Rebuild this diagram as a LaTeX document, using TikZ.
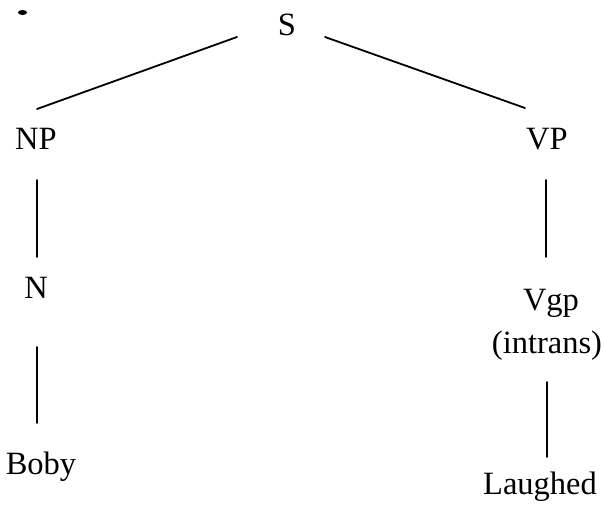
\documentclass[tikz,border=0pt]{standalone}
\usepackage{fontspec}
\setmainfont{Liberation Serif}
\begin{document}
\begin{tikzpicture}[x=1pt,y=-1pt,
  lbl/.style={anchor=base,inner sep=0pt,font=\fontsize{32.5}{38}\selectfont},
  edge/.style={line width=1.8pt,line cap=round}]
\useasboundingbox (0,0) rectangle (603,506);
\fill (22.5,12.5) ellipse (4.5 and 2.5);
\node[lbl] (S) at (287,35) {S};
\node[lbl] (NP) at (36,149) {NP};
\node[lbl] (VP) at (547,149) {VP};
\node[lbl] (N) at (36,298) {N};
\node[lbl] (Vgp) at (551,310) {Vgp};
\node[lbl] (intr) at (547,353) {(intrans)};
\node[lbl] (Boby) at (41,474) {Boby};
\node[lbl] (Laughed) at (540,494) {Laughed};
\draw[edge] ([shift={(-50,2)}]S.base) -- ([shift={(1,-40)}]NP.base);
\draw[edge] ([shift={(38,2)}]S.base) -- ([shift={(-22,-41)}]VP.base);
\draw[edge] ([shift={(1,31)}]NP.base) -- ([shift={(1,-41)}]N.base);
\draw[edge] ([shift={(1,49)}]N.base) -- ([shift={(-4,-51)}]Boby.base);
\draw[edge] ([shift={(-1,31)}]VP.base) -- ([shift={(-5,-53)}]Vgp.base);
\draw[edge] ([shift={(0,29)}]intr.base) -- ([shift={(7,-37)}]Laughed.base);
\end{tikzpicture}
\end{document}
